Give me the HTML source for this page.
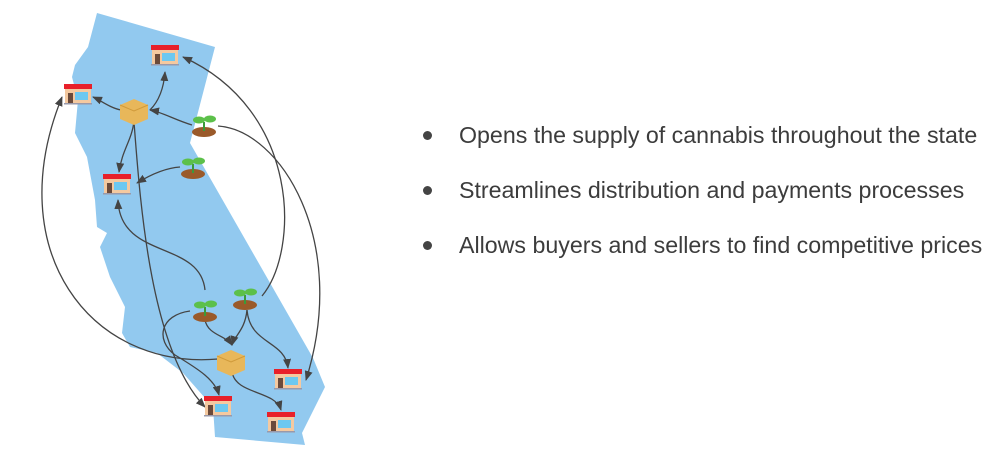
<!DOCTYPE html>
<html><head><meta charset="utf-8"><style>
body{margin:0;background:#fff;width:1000px;height:463px;overflow:hidden;position:relative;font-family:"Liberation Sans",sans-serif}
ul{position:absolute;left:420px;top:117px;margin:0;padding:0;list-style:none}
li{font-size:23.2px;color:#3c3c3c;height:55px;line-height:36px;position:relative;padding-left:39px;white-space:nowrap}
li:before{content:"";position:absolute;left:3px;top:14px;width:9px;height:9px;border-radius:50%;background:#444}
</style></head><body>
<svg width="360" height="463" style="position:absolute;left:0;top:0">
<defs>
<marker id="ah" markerWidth="10" markerHeight="8" refX="9" refY="4" orient="auto" markerUnits="userSpaceOnUse"><path d="M0,0L10,4L0,8z" fill="#444"/></marker>
<g id="store"><rect x="-13" y="-7" width="26" height="15" fill="#f4c9a0"/><rect x="-14" y="-11" width="28" height="5" fill="#e8202a"/><rect x="-10" y="-2" width="5" height="10" fill="#6b4a3a"/><rect x="-3" y="-3" width="13" height="8" fill="#6cc8f0"/><rect x="-14" y="8" width="28" height="1.5" fill="#99a"/></g>
<g id="box"><path d="M-14,-6L0,-12L14,-6L14,8L0,14L-14,8z" fill="#e8b75a"/><path d="M-14,-6L0,0L14,-6" stroke="#d09a3a" fill="none"/></g>
<g id="plant"><ellipse cx="0" cy="7" rx="12" ry="5" fill="#9a5a2a"/><path d="M0,6L0,-3" stroke="#3a9a3a" stroke-width="2"/><ellipse cx="-5" cy="-5" rx="6" ry="3.5" fill="#5cc04a"/><ellipse cx="6" cy="-6" rx="6" ry="3.5" fill="#5cc04a"/></g>
</defs>
<path d="M97,13L215,47L190,143L313,358L325,387L302,433L305,445L215,437L213,407L183,373L157,353L130,347L122,333L125,307L110,277L100,247L107,233L97,227L95,200L87,157L75,133L78,100L72,77L75,65L88,47z" fill="#92c9ef"/>
<g fill="none" stroke="#444" stroke-width="1.3" marker-end="url(#ah)">
<path d="M192,125C175,120 162,112 150,110"/>
<path d="M150,110C160,100 164,85 165,72"/>
<path d="M121,110C110,108 100,100 93,97"/>
<path d="M134,121C132,140 122,150 119,172"/>
<path d="M180,167C165,168 150,175 137,183"/>
<path d="M262,296C300,250 300,110 183,57"/>
<path d="M218,126C280,130 350,240 306,380"/>
<path d="M205,290C200,240 120,260 118,200"/>
<path d="M134,122C140,200 150,350 205,407"/>
<path d="M218,359C90,370 0,250 62,97"/>
<path d="M190,311C160,315 155,340 175,355C200,370 215,380 219,395"/>
<path d="M205,320C208,335 225,335 232,345"/>
<path d="M247,310C245,330 235,335 232,345"/>
<path d="M247,310C250,345 285,340 288,368"/>
<path d="M232,372C236,395 275,390 281,410"/>
</g>
<use href="#store" x="165" y="56"/>
<use href="#store" x="78" y="95"/>
<use href="#store" x="117" y="185"/>
<use href="#store" x="218" y="407"/>
<use href="#store" x="288" y="380"/>
<use href="#store" x="281" y="423"/>
<use href="#box" x="134" y="111"/>
<use href="#box" x="231" y="362"/>
<use href="#plant" x="204" y="125"/>
<use href="#plant" x="193" y="167"/>
<use href="#plant" x="205" y="310"/>
<use href="#plant" x="245" y="298"/>
</svg>
<ul>
<li>Opens the supply of cannabis throughout the state</li>
<li>Streamlines distribution and payments processes</li>
<li>Allows buyers and sellers to find competitive prices</li>
</ul>
</body></html>
